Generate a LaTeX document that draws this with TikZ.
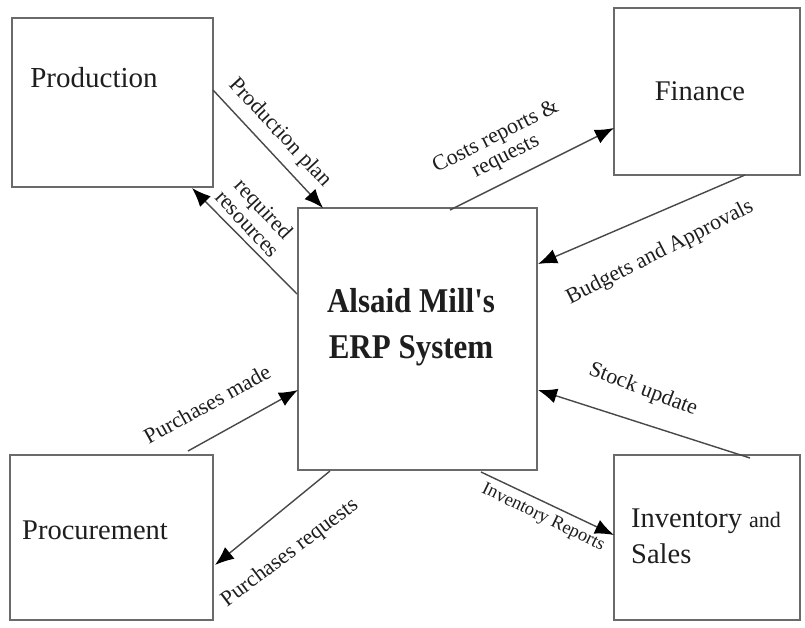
\documentclass[tikz,border=0pt]{standalone}
\usepackage{fontspec}
\setmainfont{Liberation Serif}
\usetikzlibrary{arrows.meta}
\definecolor{boxgray}{HTML}{6A6A6A}
\definecolor{linegray}{HTML}{484848}
\definecolor{txt}{HTML}{1E1E1E}
\begin{document}
\begin{tikzpicture}[x=1pt,y=-1pt]
\useasboundingbox[fill=white] (0,0) rectangle (805,627);
\tikzset{
  box/.style={draw=boxgray, line width=2pt, inner sep=0pt},
  flow/.style={draw=linegray, line width=1.4pt, -{Latex[length=19pt,width=15pt,fill=black,color=black]}},
  lbl/.style={font=\fontsize{22}{22}\selectfont, text=txt, inner sep=0pt, align=center},
  big/.style={font=\fontsize{28.5}{30}\selectfont, text=txt, inner sep=0pt}
}
% boxes
\node[box, minimum width=201pt, minimum height=169pt] (prod) at (112.5,102.5) {};
\node[box, minimum width=186pt, minimum height=167pt] (fin) at (707,91.5) {};
\node[box, minimum width=239pt, minimum height=262pt] (erp) at (417.5,339) {};
\node[box, minimum width=203pt, minimum height=165pt] (proc) at (111.5,537.5) {};
\node[box, minimum width=186pt, minimum height=165pt] (inv) at (707,537.5) {};
% box texts
\node[big, font=\fontsize{29}{30}\selectfont] (tprod) at (94,78) {Production};
\node[big] (tfin) at (700,91) {Finance};
\node[text=txt, inner sep=0pt, align=center, yscale=1.12, font=\bfseries\fontsize{31}{41}\selectfont] (terp) at (411,327) {Alsaid Mill\textquotesingle s\\ERP System};
\node[big] (tproc) at (95,530) {Procurement};
\node[big, anchor=west, align=left, font=\fontsize{28.5}{36}\selectfont] (tinv) at (631,536) {Inventory {\fontsize{22}{22}\selectfont and}\\Sales};
% connector end points
\coordinate (a1) at (213,90);   \coordinate (a2) at (323,208);
\coordinate (b1) at (297,294);  \coordinate (b2) at (192,188);
\coordinate (c1) at (450,210);  \coordinate (c2) at (614,128);
\coordinate (d1) at (745,175);  \coordinate (d2) at (538,264);
\coordinate (e1) at (188,451);  \coordinate (e2) at (298,390);
\coordinate (f1) at (330,471);  \coordinate (f2) at (215,565);
\coordinate (g1) at (750,458);  \coordinate (g2) at (538,390);
\coordinate (h1) at (481,472);  \coordinate (h2) at (614,535);
% connectors
\draw[flow] (a1) -- (a2);
\draw[flow] (b1) -- (b2);
\draw[flow] (c1) -- (c2);
\draw[flow] (d1) -- (d2);
\draw[flow] (e1) -- (e2);
\draw[flow] (f1) -- (f2);
\draw[flow] (g1) -- (g2);
\draw[flow] (h1) -- (h2);
% connector labels
\node[lbl, rotate=-47] (la) at (280,133) {Production plan};
\node[lbl, rotate=-47] (lb) at (256,216) {required\\resources};
\node[lbl, rotate=27] (lc) at (501,147) {Costs reports \&\\requests};
\node[lbl, rotate=27] (ld) at (660,253) {Budgets and Approvals};
\node[lbl, rotate=29] (le) at (207,404) {Purchases made};
\node[lbl, rotate=37] (lf) at (290,553) {Purchases requests};
\node[lbl, rotate=-21] (lg) at (643,390) {Stock update};
\node[lbl, rotate=-26, font=\fontsize{18.5}{19}\selectfont] (lh) at (543,518) {Inventory Reports};
\end{tikzpicture}
\end{document}
